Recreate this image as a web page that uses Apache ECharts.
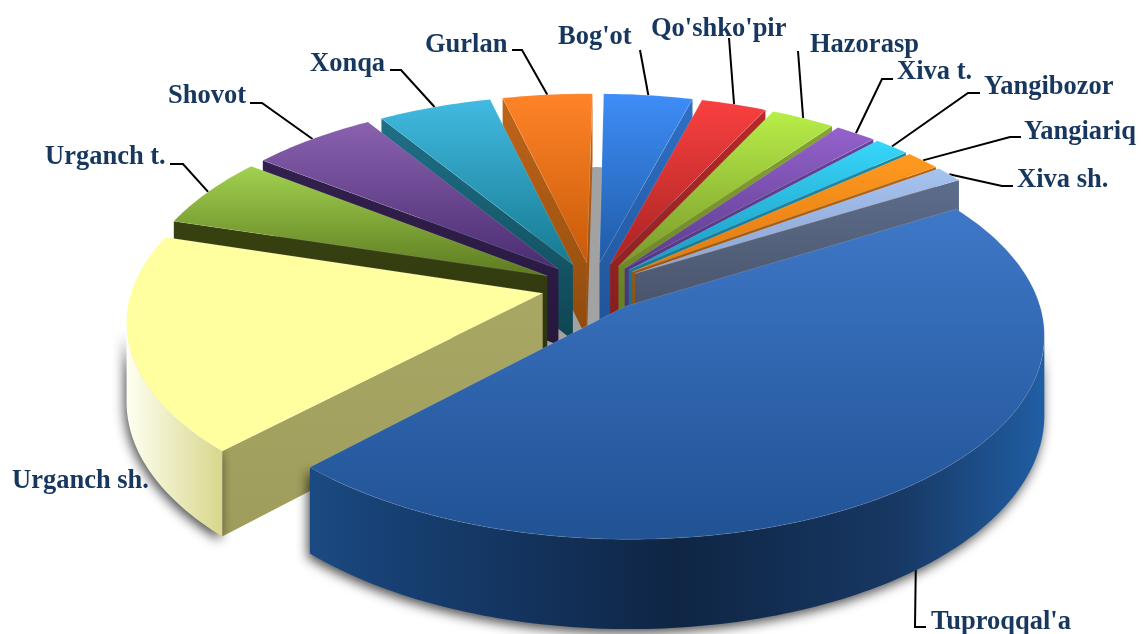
<!DOCTYPE html>
<html lang="en">
<head>
    <meta charset="UTF-8">
    <title>Pie</title>
    <script src="https://cdn.jsdelivr.net/npm/echarts@6/dist/echarts.min.js"></script>
    <style>
        html, body { margin: 0; padding: 0; background: #fff; }
    </style>
</head>
<body>
<div id="main" style="width: 1143px;height:634px;"></div>
<script type="text/javascript">
    // chart data, clockwise from the top
    var names = ["Bog'ot", "Qo'shko'pir", "Hazorasp", "Xiva t.", "Yangibozor", "Yangiariq", "Xiva sh.",
        "Tuproqqal'a", "Urganch sh.", "Urganch t.", "Shovot", "Xonqa", "Gurlan"];
    var values = [3.98, 2.94, 2.89, 1.85, 1.6, 1.6, 1.3, 45.8, 17.5, 5.7, 5.68, 5.1, 4.02];

    // look of each slice: top light, top dark, side wall light, side wall dark
    var colors = [
        ['#3f8df8', '#1f5ba6', '#2f70c6', '#1f5296'],
        ['#fa4040', '#a92323', '#b82a2a', '#7f1e1e'],
        ['#b8ee48', '#78982c', '#86a432', '#5d7a20'],
        ['#9462cc', '#5a3a8c', '#65429a', '#4a2e78'],
        ['#38d6fa', '#1a98be', '#1c8aa6', '#126e84'],
        ['#ff9a20', '#e07810', '#b9620f', '#8f4a0a'],
        ['#a6c2ee', '#8aa4d2', '#5c6d8c', '#454d60'],
        ['#3f78c8', '#205294', '#1a4a80', '#102848'],
        ['#ffffa0', '#ffffa0', '#a8a764', '#9e9d5c'],
        ['#a2d250', '#5c7a20', '#38420f', '#2c3510'],
        ['#8a62b0', '#4a2c70', '#33204e', '#26173c'],
        ['#42bae2', '#157a90', '#1f7088', '#0e4552'],
        ['#ff8428', '#c85a08', '#bf651a', '#8f4a0c']
    ];

    // label text box (left, middle) and leader elbow/end
    var labelBoxes = [[558, 37], [651, 29], [810, 45], [897, 72], [984, 87], [1024, 132], [1017, 180],
        [931, 622], [12, 481], [45, 157], [168, 96], [310, 64], [425, 45]];
    var leaders = [
        [[640, 50]], [[729, 38]], [[798, 51]], [[882, 79], [893, 79]], [[968, 93], [980, 93]],
        [[1010, 137], [1021, 137]], [[1002, 186], [1013, 186]], [[915, 627], [926, 627]], null,
        [[183, 164], [170, 164]], [[262, 103], [250, 103]], [[401, 70], [390, 70]], [[522, 50], [512, 50]]
    ];

    // pie geometry
    var cx = 592.5, cy = 287, rx = 410, ry = 197, persp = 0.13, depth = 77, explode = 0.125, startDeg = 0.8;

    var total = values.reduce(function (a, b) { return a + b; }, 0);
    var slices = [];
    var acc = startDeg;
    values.forEach(function (v) {
        var sweep = v / total * 360;
        slices.push({from: acc, to: acc + sweep, mid: acc + sweep / 2});
        acc += sweep;
    });

    function rad(d) { return d * Math.PI / 180; }

    // disc point -> screen point, drop = how far below the top face
    function project(u, v, drop) {
        var s = 1 / (1 - persp * v);
        return [cx + rx * u * s, cy + ry * v * s + drop * s];
    }

    function slicePoint(slice, deg, r, drop) {
        var u = explode * Math.sin(rad(slice.mid)) + r * Math.sin(rad(deg));
        var v = -explode * Math.cos(rad(slice.mid)) - r * Math.cos(rad(deg));
        return project(u, v, drop);
    }

    function vGrad(a, b) {
        return new echarts.graphic.LinearGradient(0, 0, 0, 1, [{offset: 0, color: a}, {offset: 1, color: b}]);
    }

    function hGrad(stops) {
        return new echarts.graphic.LinearGradient(0, 0, 1, 0, stops);
    }

    // back slices first, front slices over them
    var order = slices.map(function (s, i) { return i; }).sort(function (a, b) {
        return Math.cos(rad(slices[b].mid)) - Math.cos(rad(slices[a].mid));
    });
    var rank = [];
    order.forEach(function (idx, pos) { rank[idx] = pos; });

    function wallFill(i) {
        if (i === 7) {
            return hGrad([{offset: 0, color: '#1b4a82'}, {offset: 0.12, color: '#173f72'},
                {offset: 0.5, color: '#0f2544'}, {offset: 0.8, color: '#173863'}, {offset: 1, color: '#205ea4'}]);
        }
        if (i === 8) {
            return hGrad([{offset: 0, color: '#fffff2'}, {offset: 1, color: '#d8d78c'}]);
        }
        return colors[i][3];
    }

    function renderSlice(params) {
        var i = params.dataIndex;
        var sl = slices[i];
        var col = colors[i];
        var z = 10 + rank[i] * 5;
        var children = [];

        var apex = slicePoint(sl, sl.mid, 0, 0);
        var apexLow = slicePoint(sl, sl.mid, 0, depth);
        var rim = [], rimLow = [];
        for (var d = sl.from; d < sl.to; d += 1) {
            rim.push(slicePoint(sl, d, 1, 0));
            rimLow.push(slicePoint(sl, d, 1, depth));
        }
        rim.push(slicePoint(sl, sl.to, 1, 0));
        rimLow.push(slicePoint(sl, sl.to, 1, depth));
        var n = rim.length;

        // radial walls, only when they face the viewer
        if (rim[0][0] < apex[0]) {
            children.push({type: 'polygon', z2: z, shape: {points: [apex, rim[0], rimLow[0], apexLow]},
                style: {fill: vGrad(col[2], col[3])}});
        }
        if (apex[0] < rim[n - 1][0]) {
            children.push({type: 'polygon', z2: z, shape: {points: [rim[n - 1], apex, apexLow, rimLow[n - 1]]},
                style: {fill: vGrad(col[2], col[3])}});
        }

        // curved outer wall, the stretch where the rim runs leftwards
        var upper = [], lower = [];
        for (var k = 0; k < n - 1; k++) {
            if (rim[k + 1][0] < rim[k][0]) {
                if (!upper.length) {
                    upper.push(rim[k]);
                    lower.push(rimLow[k]);
                }
                upper.push(rim[k + 1]);
                lower.push(rimLow[k + 1]);
            }
        }
        if (upper.length) {
            children.push({type: 'polygon', z2: z, shape: {points: upper.concat(lower.reverse())},
                style: {fill: wallFill(i), shadowBlur: 12, shadowOffsetX: -2, shadowOffsetY: 4,
                    shadowColor: 'rgba(0,0,0,0.7)'}});
        }

        // top face
        children.push({type: 'polygon', z2: z + 1, shape: {points: [apex].concat(rim)},
            style: {fill: vGrad(col[0], col[1]), stroke: 'rgba(255,255,255,0.12)', lineWidth: 1}});

        // leader and label
        if (leaders[i]) {
            var rimAnchor = slicePoint(sl, sl.mid, 1, 0);
            children.push({type: 'polyline', z2: 1, shape: {points: [rimAnchor].concat(leaders[i])},
                style: {stroke: '#000', lineWidth: 2, fill: null}});
        }
        children.push({type: 'text', z2: 200, style: {
            x: labelBoxes[i][0], y: labelBoxes[i][1], text: names[i], fill: '#17375e',
            fontFamily: '"Liberation Serif"', fontWeight: 'bold', fontSize: 26.5,
            align: 'left', verticalAlign: 'middle'}});

        return {type: 'group', children: children};
    }

    var myChart = echarts.init(document.getElementById('main'));
    myChart.setOption({
        animation: false,
        series: [{
            type: 'custom',
            coordinateSystem: 'none',
            silent: true,
            data: values,
            renderItem: renderSlice
        }],
        graphic: [{
            // grey shade under the middle, seen through the gap at the top
            type: 'ellipse', z: -1, silent: true,
            shape: {cx: cx + 4, cy: cy + 5, rx: 75, ry: 125},
            style: {fill: '#a2a2a2'}
        }]
    });
</script>
</body>
</html>
